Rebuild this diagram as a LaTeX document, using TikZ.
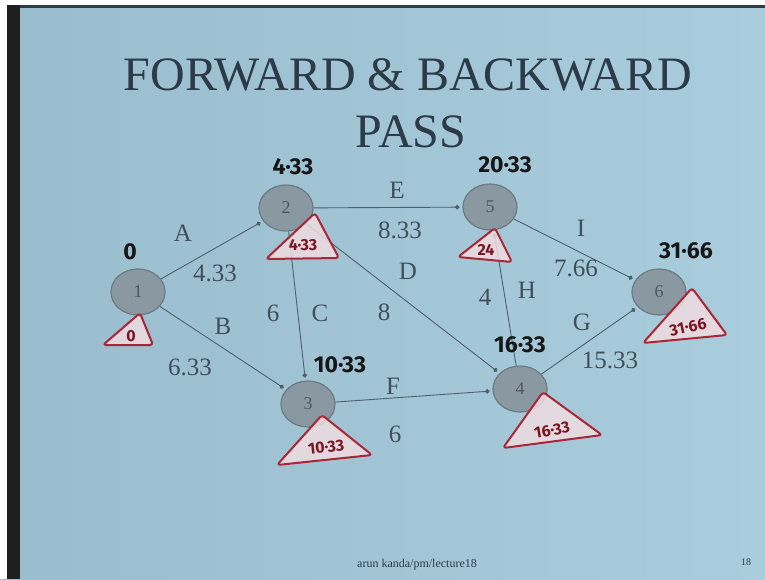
\documentclass[tikz,border=0pt]{standalone}
\usepackage{fontspec}
\setmainfont{Liberation Serif}
\newfontfamily\handfont{Fira Sans}
\usetikzlibrary{arrows.meta,shapes.geometric}
\definecolor{bgL}{HTML}{9ABDCE}
\definecolor{bgR}{HTML}{A9CDDD}
\definecolor{ink}{HTML}{2C3B47}
\definecolor{edgecol}{HTML}{4F5F6B}
\definecolor{nodefill}{HTML}{8A99A1}
\definecolor{noderim}{HTML}{6C7A82}
\definecolor{redline}{HTML}{A82636}
\definecolor{pinkfill}{HTML}{EEDCE0}
\definecolor{handink}{HTML}{161616}
\definecolor{redink}{HTML}{7A1622}
\begin{document}
\begin{tikzpicture}[x=1pt,y=-1pt,
  event/.style={ellipse, minimum width=54pt, minimum height=46pt, inner sep=0pt, fill=nodefill, draw=noderim, line width=1.2pt, font=\fontsize{18}{18}\selectfont, text=ink!85},
  act/.style={draw=edgecol, line width=0.9pt, shorten >=3pt, -{Circle[length=4.5pt]}},
  lbl/.style={font=\fontsize{25}{25}\selectfont, text=ink!90, inner sep=0pt},
  hand/.style={font=\handfont\bfseries\fontsize{23}{23}\selectfont, text=handink, inner sep=0pt},
  tri/.style={draw=redline, fill=pinkfill, fill opacity=0.85, line width=2pt, rounded corners=3pt, line join=round},
  tritext/.style={font=\handfont\bfseries\fontsize{16}{16}\selectfont, text=redink, inner sep=0pt},
]
\useasboundingbox (0,0) rectangle (765,579);
% background
\fill[left color=bgL, right color=bgR] (0,0) rectangle (765,579);
\fill[white] (0,0) rectangle (765,5);
\fill[white] (0,5) rectangle (7,579);
\fill[black!88] (7,5) rectangle (20,579);
\fill[ink] (20,5) rectangle (765,8);

% title
\node[font=\fontsize{48}{48}\selectfont, text=ink, anchor=base, inner sep=0pt] (t1) at (408,90) {FORWARD \& BACKWARD};
\node[font=\fontsize{48}{48}\selectfont, text=ink, anchor=base, inner sep=0pt] (t2) at (411,147) {PASS};

% events
\node[event] (n1) at (138,292) {1};
\node[event] (n2) at (286,208) {2};
\node[event] (n3) at (308,404) {3};
\node[event] (n4) at (520,389) {4};
\node[event] (n5) at (490,207) {5};
\node[event] (n6) at (659,292) {6};

% activities
\draw[act] (n1) -- (n2);
\draw[act] (n1) -- (n3);
\draw[act] (n2) -- (n5);
\draw[act] (n2) -- (n4);
\draw[act] (n2) -- (n3);
\draw[act] (n3) -- (n4);
\draw[act] (n4) -- (n5);
\draw[act] (n5) -- (n6);
\draw[act] (n4) -- (n6);

% activity labels
\node[lbl] (lA) at (183,233) {A};
\node[lbl] (dA) at (215,273) {4.33};
\node[lbl] (lB) at (223,326) {B};
\node[lbl] (dB) at (190,367) {6.33};
\node[lbl] (lC) at (320,313) {C};
\node[lbl] (dC) at (273,313) {6};
\node[lbl] (lE) at (397,190) {E};
\node[lbl] (dE) at (400,230) {8.33};
\node[lbl] (lD) at (408,271) {D};
\node[lbl] (dD) at (384,312) {8};
\node[lbl] (lF) at (393,386) {F};
\node[lbl] (dF) at (395,434) {6};
\node[lbl] (lI) at (581,228) {I};
\node[lbl] (dI) at (576,268) {7.66};
\node[lbl] (lH) at (527,290) {H};
\node[lbl] (dH) at (485,297) {4};
\node[lbl] (lG) at (582,322) {G};
\node[lbl] (dG) at (610,360) {15.33};

% earliest times (handwritten)
\node[hand] (e1) at (130,252) {0};
\node[hand] (e2) at (293,167) {4·33};
\node[hand] (e5) at (505,165) {20·33};
\node[hand] (e6) at (686,251) {31·66};
\node[hand] (e3) at (340,365) {10·33};
\node[hand] (e4) at (520,345) {16·33};

% latest times (red triangles)
\draw[tri] (103,345) -- (140,313) -- (153,345) -- cycle;
\node[tritext] (l1) at (131,336) {0};
\draw[tri] (266,259) -- (315,213) -- (339,258) -- cycle;
\node[tritext] (l2) at (303,245) {4·33};
\draw[tri] (458,257) -- (495,228) -- (512,262) -- cycle;
\node[tritext] (l5) at (486,250) {24};
\draw[tri] (643,343) -- (692,288) -- (727,335) -- cycle;
\node[tritext, rotate=12] (l6) at (688,327) {31·66};
\draw[tri] (277,465) -- (322,415) -- (372,455) -- cycle;
\node[tritext, rotate=6] (l3) at (326,447) {10·33};
\draw[tri] (503,448) -- (543,392) -- (602,435) -- cycle;
\node[tritext, rotate=10] (l4) at (552,430) {16·33};

% footer
\node[font=\fontsize{12}{12}\selectfont, text=ink, inner sep=0pt] (foot) at (417,565) {arun kanda/pm/lecture18};
\node[font=\fontsize{10}{10}\selectfont, text=ink, inner sep=0pt] (page) at (746,562) {18};
\end{tikzpicture}
\end{document}
